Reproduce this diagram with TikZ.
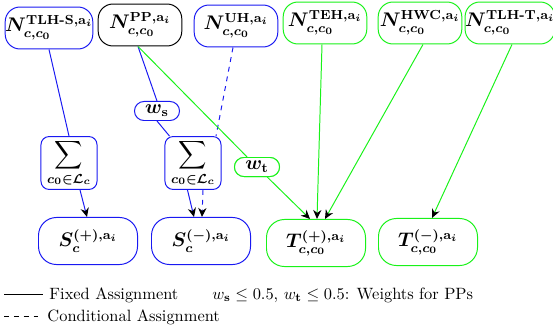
\documentclass[tikz,border=0pt]{standalone}
\usepackage{amsmath,amssymb}
\usetikzlibrary{arrows.meta,calc}
\definecolor{gr}{rgb}{0.1,0.95,0.1}
\definecolor{bl}{rgb}{0.1,0.1,0.95}
\begin{document}
\begin{tikzpicture}[x=0.61pt,y=-0.61pt,
  line width=0.6pt,
  topn/.style={draw,fill=white,rounded corners=9pt,minimum width=51pt,minimum height=25.6pt,inner xsep=0pt,inner ysep=1pt,font=\large\boldmath},
  botn/.style={draw,fill=white,rounded corners=11pt,minimum width=60.4pt,minimum height=28.7pt,inner sep=1pt,font=\large\boldmath},
  sumn/.style={draw,fill=white,rounded corners=5pt,minimum width=34.2pt,minimum height=32.3pt,inner sep=0.5pt,font=\large\boldmath},
  wn/.style={draw,fill=white,rounded corners=5.8pt,minimum width=27.5pt,minimum height=11.6pt,inner sep=0pt,font=\large\boldmath},
  bcol/.style={draw=bl},
  gcol/.style={draw=gr},
  arr/.style={-{Stealth[black,length=5.5pt,width=5pt]}}]
\useasboundingbox (0,0) rectangle (553,333);
% top row
\node[topn,bcol] (tlhs) at (49,28) {$N_{c,c_0}^{\textbf{TLH-S},\mathbf{a}_i}$};
\node[topn,draw=black] (pp) at (140,25) {$N_{c,c_0}^{\mathbf{PP},\mathbf{a}_i}$};
\node[topn,bcol] (uh) at (236,26) {$N_{c,c_0}^{\mathbf{UH},\mathbf{a}_i}$};
\node[topn,gcol] (teh) at (325,23) {$N_{c,c_0}^{\mathbf{TEH},\mathbf{a}_i}$};
\node[topn,gcol] (hwc) at (420,23) {$N_{c,c_0}^{\mathbf{HWC},\mathbf{a}_i}$};
\node[topn,gcol] (tlht) at (510,23) {$N_{c,c_0}^{\textbf{TLH-T},\mathbf{a}_i}$};
% middle
\node[sumn,bcol] (sum1) at (69,163) {$\displaystyle\sum_{c_0\in\mathcal{L}_c}$};
\node[sumn,bcol] (sum2) at (193,163) {$\displaystyle\sum_{c_0\in\mathcal{L}_c}$};
\node[wn,bcol] (ws) at (157,111) {$w_{\mathbf{s}}$};
\node[wn,gcol] (wt) at (257,167) {$w_{\mathbf{t}}$};
% bottom
\node[botn,bcol] (splus) at (88,241) {$S_c^{(+),\mathbf{a}_i}$};
\node[botn,bcol] (sminus) at (201,241) {$S_c^{(-),\mathbf{a}_i}$};
\node[botn,gcol] (tplus) at (316,243) {$T_{c,c_0}^{(+),\mathbf{a}_i}$};
\node[botn,gcol] (tminus) at (428,242) {$T_{c,c_0}^{(-),\mathbf{a}_i}$};
% blue edges
\draw[bl] (tlhs.south) -- (sum1.north);
\draw[bl,arr] ($(sum1.south)+(11,0)$) -- ($(splus.north)+(-1,0)$);
\draw[bl] ($(pp.south)+(-2,0)$) -- (ws.north);
\draw[bl] (ws.south) -- ($(sum2.north west)+(5,0)$);
\draw[bl,arr] ($(sum2.south west)+(23,0)$) -- ($(sminus.north)+(-7,0)$);
\draw[bl,dashed] ($(uh.south)+(-3,0)$) -- ($(sum2.north)+(23,0)$);
\draw[bl,dashed,arr] ($(sum2.south)+(10,0)$) -- ($(sminus.north)+(1,0)$);
% green edges
\draw[gr] ($(pp.south)+(-2,0)$) -- (wt);
\draw[gr,arr] (wt) -- ($(tplus.north)+(-6,0)$);
\draw[gr,arr] ($(teh.south)+(-3,0)$) -- ($(tplus.north)+(1,0)$);
\draw[gr,arr] ($(hwc.south)+(3,0)$) -- ($(tplus.north)+(9,0)$);
\draw[gr,arr] ($(tlht.south)+(2,0)$) -- ($(tminus.north)+(4,0)$);
% redraw w_t node on top of its connectors
\node[wn,gcol] (wt2) at (wt) {$w_{\mathbf{t}}$};
% legend
\coordinate (la) at (4,294);
\coordinate (lb) at (43,294);
\coordinate (lc) at (4,316);
\coordinate (ld) at (42,316);
\draw[line width=0.4pt] (la) -- (lb);
\draw[line width=0.4pt,dashed] (lc) -- (ld);
\node[anchor=west,inner sep=0pt] (fixed) at (49,295) {Fixed Assignment};
\node[anchor=west,inner sep=0pt] (cond) at (47,317) {Conditional Assignment};
\node[anchor=west,inner sep=0pt] (wdef) at (212,295) {$w_{\mathbf{s}}\le 0.5$, $w_{\mathbf{t}}\le 0.5$: Weights for PPs};
\end{tikzpicture}
\end{document}
